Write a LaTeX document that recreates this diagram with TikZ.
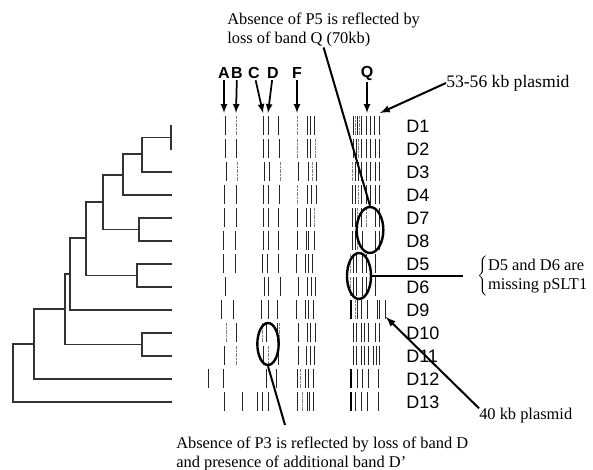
\documentclass[tikz,border=0pt]{standalone}
\usepackage{fontspec}
\setmainfont{Liberation Serif}
\newfontfamily\labelfont{Liberation Sans}
\usetikzlibrary{arrows,shapes.geometric}

% one row of gel bands: y, dark bands, light bands
\newcommand{\gelrow}[3]{%
  \foreach \bx in {#2} \draw[band] (\bx,#1-9.5) -- (\bx,#1+9.5);
  \foreach \bx in {#3} \draw[band,bandlight] (\bx,#1-9.5) -- (\bx,#1+9.5);
}

\begin{document}
\begin{tikzpicture}[x=0.75pt,y=-0.75pt,
   tree/.style={black!80,line width=0.9pt},
   band/.style={black!85,line width=0.75pt},
   bandlight/.style={black!50,dash pattern=on 0.8pt off 0.4pt},
   bandthick/.style={black,line width=1.8pt},
   ring/.style={draw,ellipse,line width=1.8pt,inner sep=0pt},
   lane/.style={font=\labelfont\bfseries\fontsize{12}{14}\selectfont,inner sep=1pt},
   laneptr/.style={line width=1.3pt,-latex},
   strain/.style={anchor=west,inner sep=0pt,font=\labelfont\fontsize{13.5}{15}\selectfont},
   note/.style={anchor=west,align=left,inner sep=0pt,font=\fontsize{12.3}{14.5}\selectfont},
   pointer/.style={line width=1.5pt}]
   \useasboundingbox (0,0) rectangle (593,470);

   % dendrogram
   \foreach \n/\y in {1/126,2/149,3/172,4/195,7/218,8/241,5/264,6/287,9/310,10/333,11/356,12/379,13/402}
      \coordinate (l\n) at (172,\y);
   \coordinate (j12) at (171,137.5);
   \coordinate (j3) at (142,154);
   \coordinate (j4) at (123,175);
   \coordinate (j78) at (139,229.5);
   \coordinate (j8) at (103,202);
   \coordinate (j56) at (137,275.5);
   \coordinate (j6) at (86,238);
   \coordinate (j9) at (70,274);
   \coordinate (j1011) at (142,344.5);
   \coordinate (j10) at (65,309);
   \coordinate (jD12) at (34,344);
   \coordinate (jroot) at (13,373);
   \foreach \p/\c in {j12/l1,j12/l2,j3/j12,j3/l3,j4/j3,j4/l4,j78/l7,j78/l8,j8/j4,j8/j78,
                      j56/l5,j56/l6,j6/j8,j6/j56,j9/j6,j9/l9,j1011/l10,j1011/l11,
                      j10/j9,j10/j1011,jD12/j10,jD12/l12,jroot/jD12,jroot/l13}
      \draw[tree] (\p) |- (\c);

   % gel lanes
   \gelrow{126}{225,263,268,278,307,310,314,353,357,361,366,370,374,379}{236,297,355,359}
   \gelrow{149}{225,236,263,268,279,307,310,353,356,361,366,370,375,379}{297,315,358}
   \gelrow{172}{226,264,269,298,308,316,355,358,361,366,370,375,379}{237,280,312,352}
   \gelrow{195}{224,236,263,268,279,307,311,316,352,355,361,366,370,375,379}{297,358}
   \gelrow{218}{224,236,263,268,278,297,306,310,352,355,361,375,379}{314,357,366}
   \gelrow{241}{223,235,263,268,278,297,306,308,314,352,355,362,375,379}{357}
   \gelrow{264}{223,235,262,267,278,296,305,308,312,353,356,362,366,375}{350}
   \gelrow{287}{225,264,268,280,298,307,311,315,353,356,362,366,375}{350}
   \gelrow{310}{221,233,261,268,277,296,305,308,313,357,361,367,377,379,385}{355}
   \gelrow{333}{236,266,277,298,307,310,315,353,356,361,364,368,375,379}{226,262,279}
   \gelrow{356}{224,263,278,298,306,310,314,353,356,361,364,368,373,376,379}{236,268}
   \gelrow{379}{208,223,266,276,297,305,308,313,357,362,368,378}{300}
   \gelrow{402}{224,242,257,262,268,297,307,309,313,355,361,367,378}{302}
   \foreach \y in {310,379,402}
      \draw[bandthick] (351,\y-9.5) -- (351,\y+9.5);

   % strain names
   \foreach \n/\y in {1/126,2/149,3/172,4/195,7/218,8/241,5/264,6/287,9/310,10/333,11/356,12/379,13/402}
      \node[strain] (D\n) at (406,\y) {D\n};

   % band letters
   \foreach \n/\x in {A/224,B/237,C/254,D/273,F/297,Q/367}
      \node[lane] (lane\n) at (\x,73) {\n};
   \coordinate (bA) at (224,113);
   \coordinate (bB) at (236,113);
   \coordinate (bC) at (263,113);
   \coordinate (bD) at (268,113);
   \coordinate (bF) at (297,113);
   \coordinate (bQ) at (367,113);
   \foreach \n in {A,B,C,D,F,Q}
      \draw[laneptr] (lane\n) -- (b\n);

   % circled bands
   \node[ring,minimum width=20pt,minimum height=34.5pt] (q78) at (370,230) {};
   \node[ring,minimum width=18pt,minimum height=34.5pt] (q56) at (359,276) {};
   \node[ring,minimum width=16pt,minimum height=31.5pt] (d1011) at (268,344) {};

   % notes
   \node[note] (p5) at (227,30) {Absence of P5 is reflected by\\loss of band Q (70kb)};
   \node[note] (p3) at (176,454) {Absence of P3 is reflected by loss of band D\\and presence of additional band D’};
   \node[note,font=\fontsize{13.2}{15}\selectfont] (kb53) at (446,83) {53-56 kb plasmid};
   \node[note] (kb40) at (479,416) {40 kb plasmid};
   \node[note] (pslt) at (477,276) {$\left\{\begin{tabular}{@{}l@{}}D5 and D6 are\\missing pSLT1\end{tabular}\right.$};

   \coordinate (pslt0) at (463,276);
   \coordinate (p3tip) at (285,425);
   \coordinate (band40) at (386,317);
   \coordinate (band53) at (380,113);
   \draw[pointer] (p5.south) -- (q78.north);
   \draw[pointer] (q56.east) -- (pslt0);
   \draw[pointer] (d1011.south) -- (p3tip);
   \draw[pointer,-latex] (kb40.north west) -- (band40);
   \draw[pointer,-latex] (kb53.west) -- (band53);
\end{tikzpicture}
\end{document}
